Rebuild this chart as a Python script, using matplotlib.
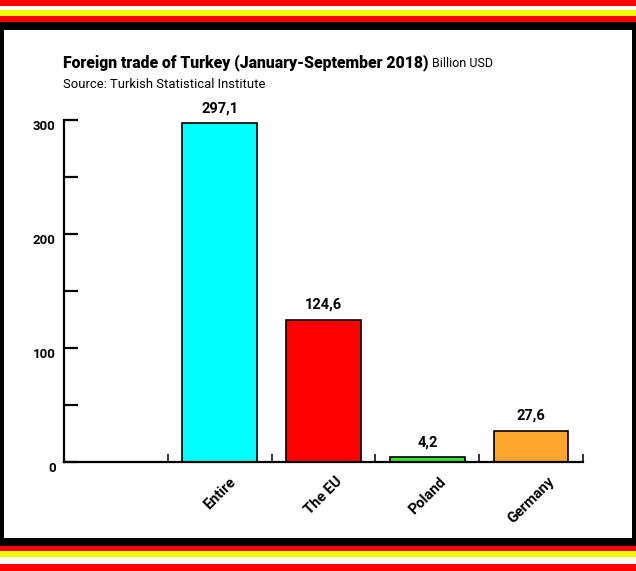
import matplotlib
matplotlib.use("Agg")
import numpy as np
import matplotlib.pyplot as plt
import matplotlib.transforms as mtransforms
from matplotlib.patches import Rectangle
from matplotlib.ticker import MultipleLocator, FixedLocator

# data
categories = ["Entire", "The EU", "Poland", "Germany"]
values = [297.1, 124.6, 4.2, 27.6]
value_labels = ["297,1", "124,6", "4,2", "27,6"]
bar_colors = ["#00FFFF", "#FF0000", "#33E633", "#FFA62E"]

title_bold = "Foreign trade of Turkey (January-September 2018)"
title_unit = "Billion USD"
source = "Source: Turkish Statistical Institute"

fam = ["Roboto", "DejaVu Sans"]

W, H = 636, 571
fig = plt.figure(figsize=(W / 100, H / 100), dpi=100)


def band(y0, y1, color, x0=0, x1=W):
    # rectangle given in pixels from the top-left corner
    fig.patches.append(Rectangle((x0 / W, 1 - y1 / H), (x1 - x0) / W, (y1 - y0) / H,
                                 transform=fig.transFigure, facecolor=color,
                                 edgecolor="none", zorder=-5))


# frame: black box with flag stripes on top and bottom
band(0, H, "black")
band(30, 538, "white", 4, 632)
band(0, 6, "#FF0000")
band(6, 10, "white")
band(10, 16, "#F2FF00")
band(16, 22, "#FF0000")
band(546, 551, "#FF0000")
band(551, 557, "#F2FF00")
band(557, 564, "white")
band(564, H, "#FF0000")

ax = fig.add_axes([64 / W, 1 - 462 / H, 519 / W, 342 / H])
ax.set_zorder(2)
ax.patch.set_alpha(0)

x = np.arange(len(categories)) + 1.5
ax.bar(x, values, width=0.72, color=bar_colors, edgecolor="black", linewidth=1.2, zorder=2)
for xi, v, lab in zip(x, values, value_labels):
    ax.annotate(lab, (xi, v), xytext=(0, 8), textcoords="offset points",
                ha="center", va="baseline", fontsize=10.5, fontweight="bold", family=fam)

ax.set_xlim(0, 5)
ax.set_ylim(0, 300)
for s in ["top", "right"]:
    ax.spines[s].set_visible(False)
for s in ["left", "bottom"]:
    ax.spines[s].set_linewidth(1.6)

ax.set_xticks(x)
ax.set_xticklabels(categories, rotation=45, fontsize=10.5, fontweight="bold", family=fam)
ax.tick_params(axis="x", which="major", length=0, pad=9)
ax.xaxis.set_minor_locator(FixedLocator([1, 2, 3, 4, 5]))
ax.tick_params(axis="x", which="minor", direction="in", length=6, width=1.1)

ax.yaxis.set_major_locator(MultipleLocator(100))
ax.yaxis.set_minor_locator(MultipleLocator(50))
ax.tick_params(axis="y", which="both", direction="in", length=10, width=1.6)
ax.tick_params(axis="y", which="major", pad=6, labelsize=9.5)
shift = mtransforms.ScaledTranslation(0, -5 / 100, fig.dpi_scale_trans)
for lab in ax.get_yticklabels():
    lab.set_fontweight("bold")
    lab.set_family(fam)
    lab.set_transform(lab.get_transform() + shift)

t1 = fig.text(63 / W, 1 - 67 / H, title_bold, fontsize=11.3, fontweight="black",
              family=fam, va="baseline", ha="left")
fig.canvas.draw()
bb = t1.get_window_extent()
fig.text((bb.x1 + 4) / W, 1 - 67 / H, title_unit, fontsize=9, family=fam,
         va="baseline", ha="left")
fig.text(63 / W, 1 - 88 / H, source, fontsize=9.4, family=fam, va="baseline", ha="left")

fig.savefig("out.png", dpi=100)
